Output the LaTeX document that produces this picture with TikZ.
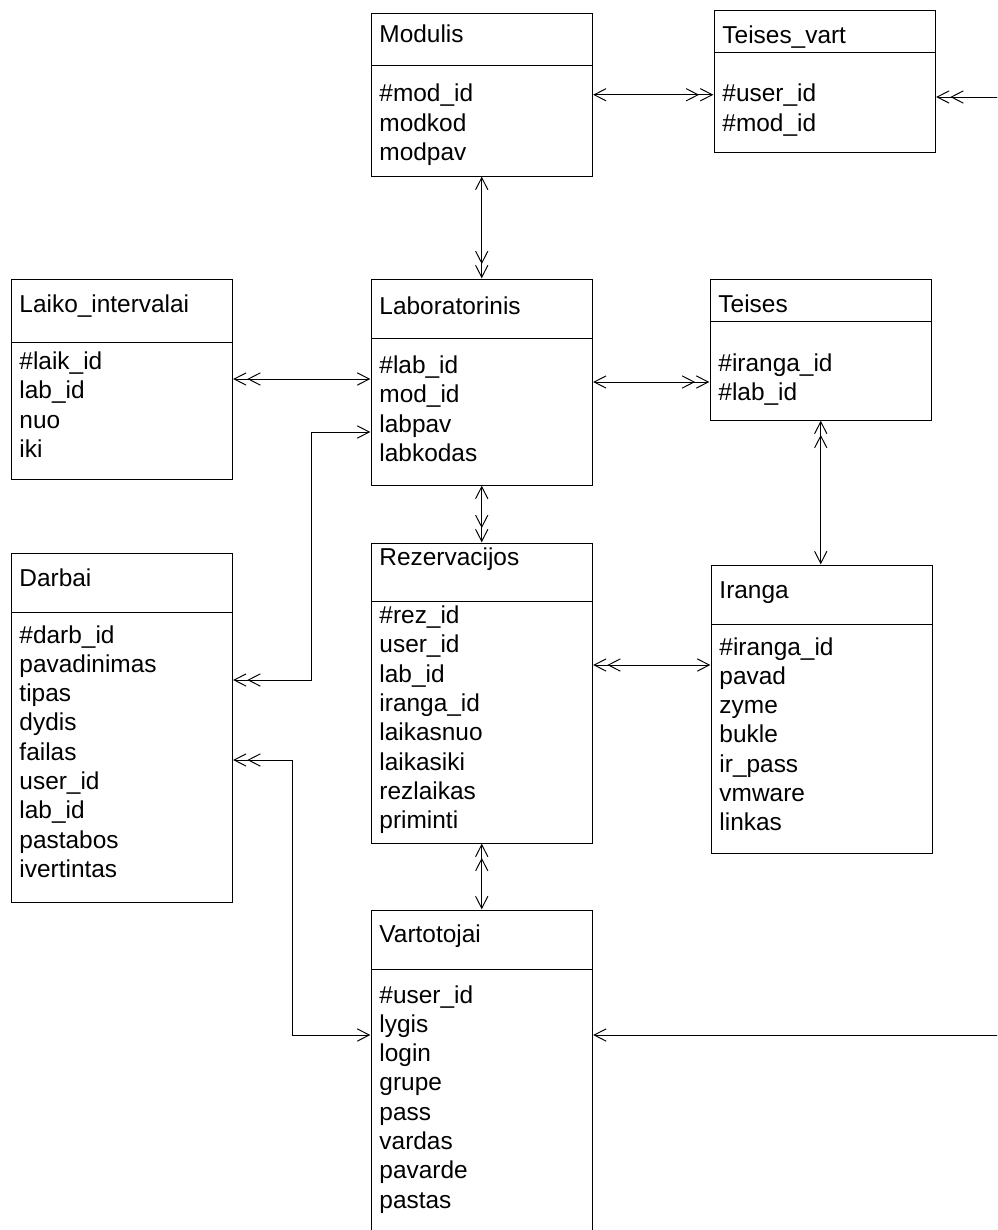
\documentclass[tikz,border=0pt]{standalone}
\usepackage{fontspec}
\setmainfont{Liberation Sans}
\usetikzlibrary{arrows.meta}

% #1 name, #2 x, #3 top, #4 title base, #5 divider, #6 first field base, #7 bottom, #8 title, #9 fields
\newcommand{\dbtable}[9]{%
  \pgfmathsetmacro{\boxh}{(#7-#3)*0.02}%
  \node[tbl, minimum height=\boxh cm] (#1) at (#2,#3) {};
  \draw (#2,#5) -- ++(221.5,0);
  \node[txt] (#1-title) at (#2+8,#4) {#8};
  \foreach \f [count=\i from 0] in {#9}
    \node[txt] (#1-\i) at (#2+8,#6+29.3*\i) {\f};
}

\begin{document}
\begin{tikzpicture}[
    x=0.02cm, y=-0.02cm,
    >={Straight Barb[length=6.8pt, width=7pt, sep=0.4pt]},
    line width=0.55pt,
    tbl/.style={draw, anchor=north west, minimum width=4.43cm, inner sep=0pt, outer sep=0pt},
    txt/.style={anchor=base west, inner sep=0pt, font=\fontsize{13.9pt}{16pt}\selectfont}
]
\useasboundingbox (0,0) rectangle (997,1230);
\clip (0,0) rectangle (997,1230);

\dbtable{mod}{371}{13.5}{43}{65}{102}{176}{Modulis}{\#mod\_id, modkod, modpav}
\dbtable{tv}{714}{10}{43.5}{52}{102}{152}{Teises\_vart}{\#user\_id, \#mod\_id}
\dbtable{laik}{11}{279}{312}{342}{369.5}{479}{Laiko\_intervalai}{\#laik\_id, lab\_id, nuo, iki}
\dbtable{lab}{371}{279}{314}{338}{373.5}{485}{Laboratorinis}{\#lab\_id, mod\_id, labpav, labkodas}
\dbtable{teis}{710}{279}{312}{321}{371.5}{420}{Teises}{\#iranga\_id, \#lab\_id}
\dbtable{darb}{11}{553}{586}{612}{643}{902}{Darbai}{\#darb\_id, pavadinimas, tipas, dydis, failas, user\_id, lab\_id, pastabos, ivertintas}
\dbtable{rez}{371}{543}{565}{601}{623.5}{843}{Rezervacijos}{\#rez\_id, user\_id, lab\_id, iranga\_id, laikasnuo, laikasiki, rezlaikas, priminti}
\dbtable{ir}{711}{565}{598}{624}{655}{853}{Iranga}{\#iranga\_id, pavad, zyme, bukle, ir\_pass, vmware, linkas}
\dbtable{vart}{371}{910}{942}{969}{1003}{1240}{Vartotojai}{\#user\_id, lygis, login, grupe, pass, vardas, pavarde, pastas}

% relations
\draw[<->>] (mod.east) -- (mod.east -| tv.west);
\draw[<->>] (mod.south) -- (lab.north);
\draw[<<->] (laik.east) -- (laik.east -| lab.west);
\draw[<->>] (lab.east) -- (lab.east -| teis.west);
\draw[<->>] (lab.south) -- (lab.south |- rez.north);
\draw[<<->] (teis.south) -- (teis.south |- ir.north);
\draw[<<->] ([yshift=0.56cm]rez.east) -- ([yshift=0.56cm]rez.east -| ir.west);
\draw[<<->] (rez.south) -- (rez.south |- vart.north);
\draw[<<->] ([yshift=0.95cm]darb.east) -- ++(79,0) |- ([yshift=-1cm]lab.west);
\draw[<<->] ([yshift=-0.65cm]darb.east) -- ++(60,0) |- ([yshift=0.8cm]vart.west);
\draw[<->>] ([yshift=0.8cm]vart.east) -- ++(430,0) |- ([yshift=-0.32cm]tv.east);

\end{tikzpicture}
\end{document}
